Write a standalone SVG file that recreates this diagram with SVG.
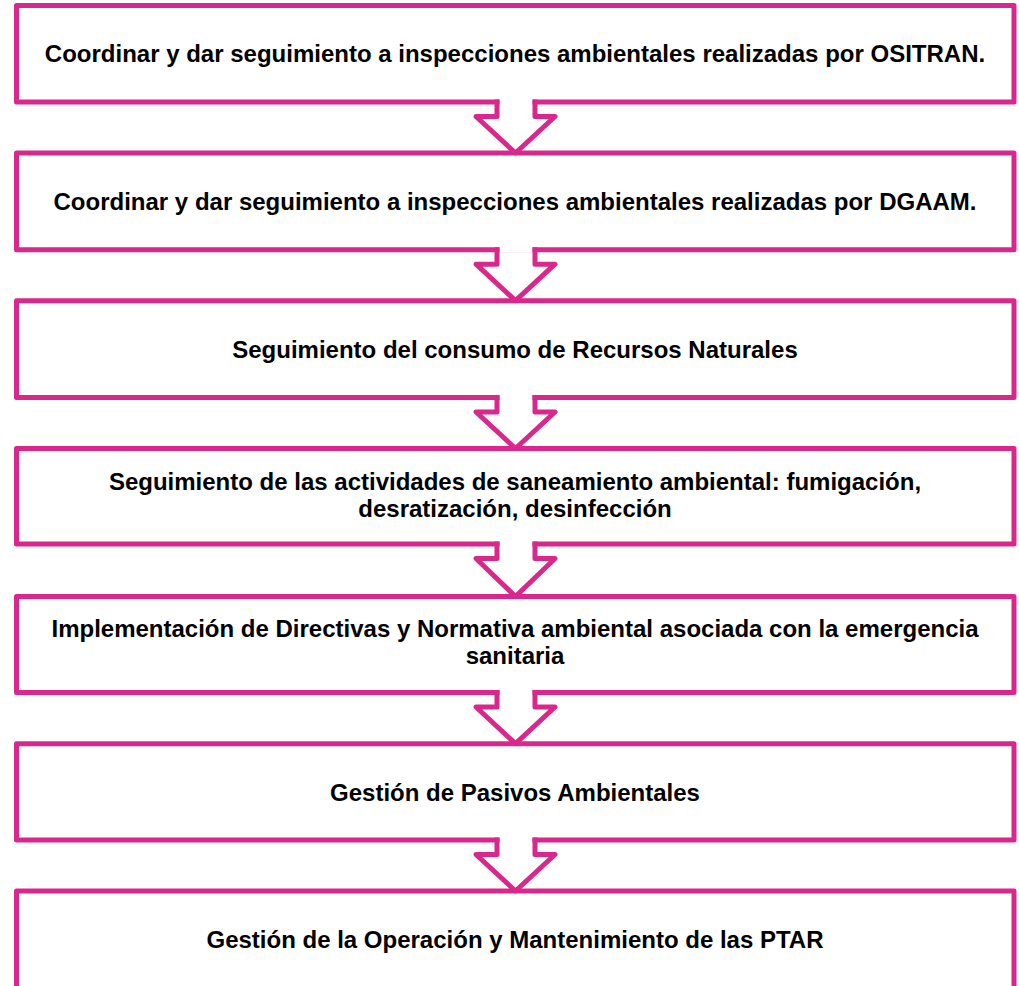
<svg xmlns="http://www.w3.org/2000/svg" width="1019" height="986" viewBox="0 0 1019 986">
<style>
.box{fill:#ffffff;stroke:#D9288C;stroke-width:5;stroke-linejoin:round}
.arr{fill:none;stroke:#D9288C;stroke-width:5;stroke-linejoin:round}
.cov{fill:#ffffff}
.t{font-family:"Liberation Sans",Arial,sans-serif;font-weight:bold;font-size:24px;fill:#000000;text-anchor:middle}
</style>
<rect width="1019" height="986" fill="#ffffff"/>
<g id="node1"><rect class="box" x="16.5" y="5.5" width="997.5" height="96.5"/><text class="t" x="515" y="62.3">Coordinar y dar seguimiento a inspecciones ambientales realizadas por OSITRAN.</text></g>
<g id="node2"><rect class="box" x="16.5" y="153" width="997.5" height="96.7"/><text class="t" x="515" y="210">Coordinar y dar seguimiento a inspecciones ambientales realizadas por DGAAM.</text></g>
<g id="node3"><rect class="box" x="16.5" y="300.7" width="997.5" height="96.8"/><text class="t" x="515" y="357.7">Seguimiento del consumo de Recursos Naturales</text></g>
<g id="node4"><rect class="box" x="16.5" y="448.5" width="997.5" height="95.5"/><text class="t" x="515" y="490.2">Seguimiento de las actividades de saneamiento ambiental: fumigación,</text><text class="t" x="515" y="517.3">desratización, desinfección</text></g>
<g id="node5"><rect class="box" x="16.5" y="596.5" width="997.5" height="96"/><text class="t" x="515" y="637.3">Implementación de Directivas y Normativa ambiental asociada con la emergencia</text><text class="t" x="515" y="664.4">sanitaria</text></g>
<g id="node6"><rect class="box" x="16.5" y="743.7" width="997.5" height="96.3"/><text class="t" x="515" y="800.5">Gestión de Pasivos Ambientales</text></g>
<g id="node7"><rect class="box" x="16.5" y="891" width="997.5" height="98"/><text class="t" x="515" y="947.5">Gestión de la Operación y Mantenimiento de las PTAR</text></g>
<g id="connectors">
<rect class="cov" x="499.5" y="99" width="33" height="6"/>
<path class="arr" d="M497,99.5 V116.5 H476 L515.5,153 L555,116.5 H535 V99.5"/>
<rect class="cov" x="499.5" y="246.7" width="33" height="6"/>
<path class="arr" d="M497,247.2 V264.2 H476 L515.5,300.7 L555,264.2 H535 V247.2"/>
<rect class="cov" x="499.5" y="394.5" width="33" height="6"/>
<path class="arr" d="M497,395 V412 H476 L515.5,448.5 L555,412 H535 V395"/>
<rect class="cov" x="499.5" y="541" width="33" height="6"/>
<path class="arr" d="M497,541.5 V558.5 H476 L515.5,596.5 L555,558.5 H535 V541.5"/>
<rect class="cov" x="499.5" y="689.5" width="33" height="6"/>
<path class="arr" d="M497,690 V707 H476 L515.5,743.7 L555,707 H535 V690"/>
<rect class="cov" x="499.5" y="837" width="33" height="6"/>
<path class="arr" d="M497,837.5 V854.5 H476 L515.5,891 L555,854.5 H535 V837.5"/>
</g>
</svg>
